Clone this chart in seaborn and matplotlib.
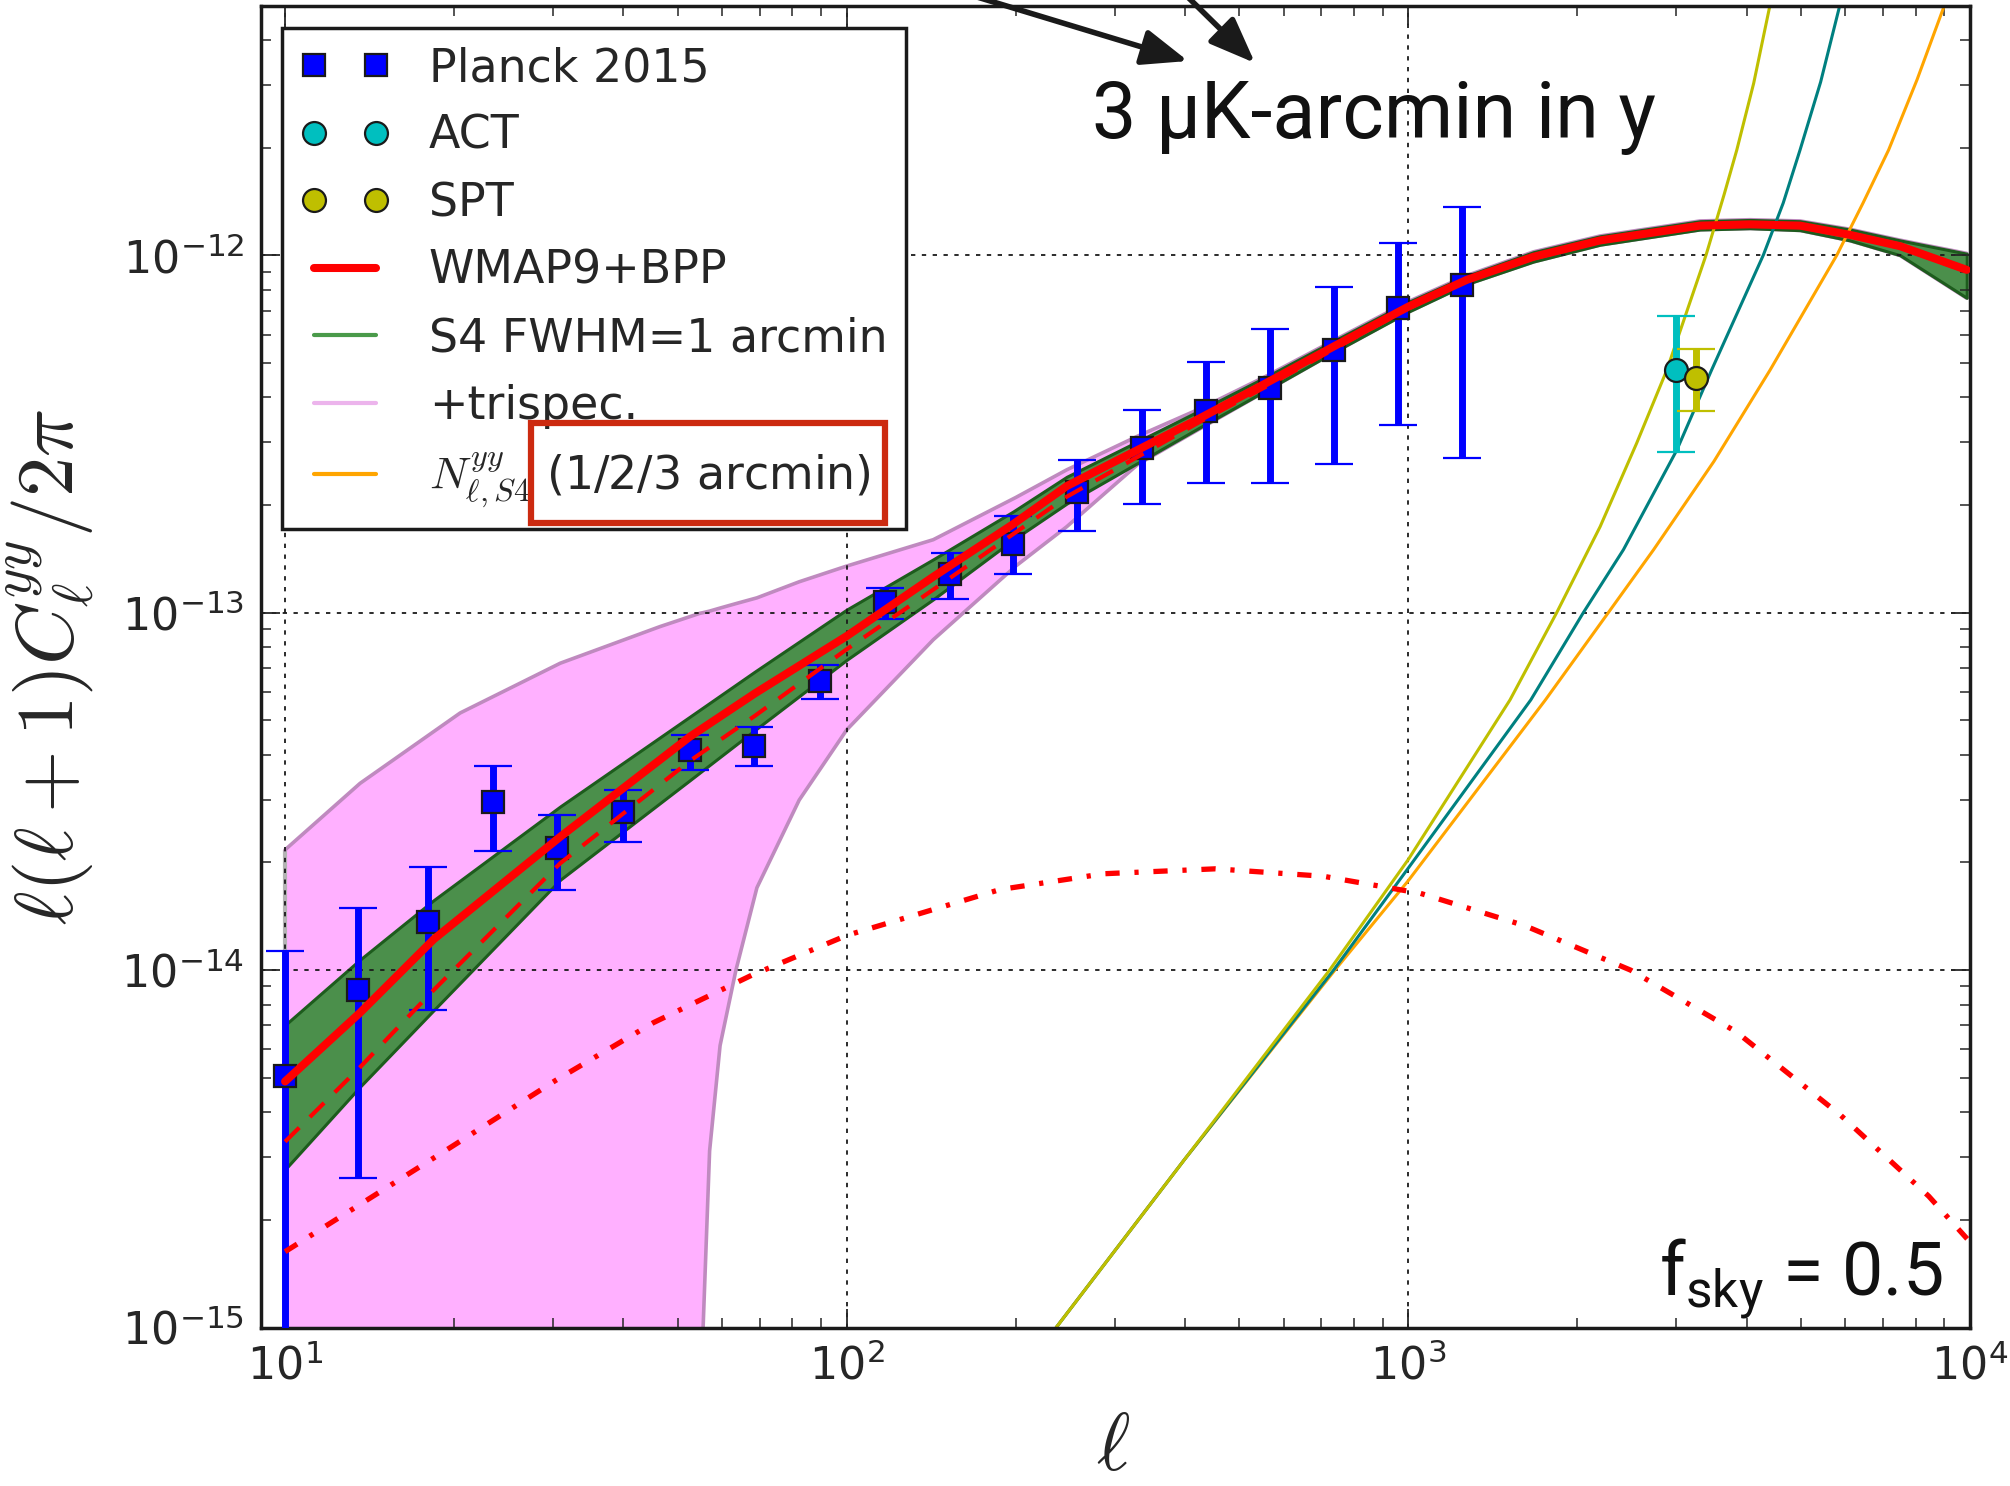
import numpy as np
import matplotlib
matplotlib.use("Agg")
import matplotlib.pyplot as plt
import seaborn as sns
import pandas as pd
from matplotlib.lines import Line2D
from matplotlib.patches import Rectangle, FancyArrowPatch
from matplotlib.font_manager import FontProperties
from matplotlib.ticker import FixedLocator, LogLocator, NullFormatter

# ---------------- data ----------------
planck_ell = [10, 13.5, 18, 23.5, 30.5, 40, 52.5, 68.5, 89.5, 117, 152.5, 198,
              257.5, 335.5, 436.5, 567.5, 738, 959.5, 1247.5]
planck_val = [5.04e-15, 8.77e-15, 1.36e-14, 2.95e-14, 2.19e-14, 2.76e-14, 4.13e-14,
              4.23e-14, 6.45e-14, 1.07e-13, 1.28e-13, 1.56e-13, 2.17e-13, 2.88e-13,
              3.66e-13, 4.24e-13, 5.42e-13, 7.11e-13, 8.24e-13]
planck_hi = [1.13e-14, 1.49e-14, 1.94e-14, 3.72e-14, 2.72e-14, 3.2e-14, 4.56e-14,
             4.8e-14, 7.13e-14, 1.17e-13, 1.47e-13, 1.86e-13, 2.67e-13, 3.7e-13,
             5.04e-13, 6.21e-13, 8.14e-13, 1.08e-12, 1.36e-12]
planck_lo = [1e-16, 2.62e-15, 7.75e-15, 2.15e-14, 1.68e-14, 2.28e-14, 3.62e-14,
             3.72e-14, 5.75e-14, 9.6e-14, 1.09e-13, 1.28e-13, 1.69e-13, 2.02e-13,
             2.31e-13, 2.31e-13, 2.61e-13, 3.36e-13, 2.7e-13]

act_ell, act_val, act_hi, act_lo = [2997], [4.78e-13], [6.76e-13], [2.81e-13]
spt_ell, spt_val, spt_hi, spt_lo = [3250], [4.54e-13], [5.46e-13], [3.67e-13]

ell_model = [10, 13.6, 18.4, 30.9, 52.6, 68.7, 100, 142.6, 198, 246.5, 425.6, 560,
             735.6, 1000, 1270, 1670, 2195, 3306, 4057, 4982, 6115, 7508, 9867]
wmap_total = [4.88e-15, 7.6e-15, 1.22e-14, 2.36e-14, 4.5e-14, 5.95e-14, 8.6e-14,
              1.26e-13, 1.77e-13, 2.26e-13, 3.5e-13, 4.4e-13, 5.55e-13, 7.18e-13,
              8.53e-13, 9.9e-13, 1.10e-12, 1.21e-12, 1.22e-12, 1.21e-12, 1.14e-12,
              1.06e-12, 9.1e-13]
wmap_dashed = [3.31e-15, 5.35e-15, 8.8e-15, 1.99e-14, 3.85e-14, 5.15e-14, 7.9e-14,
               1.16e-13, 1.66e-13, 2.11e-13, 3.42e-13, 4.3e-13, 5.45e-13, 7.1e-13,
               8.45e-13, 9.8e-13, 1.09e-12, 1.2e-12, 1.21e-12, 1.2e-12, 1.13e-12,
               1.05e-12, 9.0e-13]
s4_upper = [7.02e-15, 1.07e-14, 1.57e-14, 2.87e-14, 5.12e-14, 6.85e-14, 1.02e-13,
            1.41e-13, 1.92e-13, 2.40e-13, 3.68e-13, 4.58e-13, 5.75e-13, 7.4e-13,
            8.75e-13, 1.02e-12, 1.13e-12, 1.245e-12, 1.255e-12, 1.245e-12, 1.18e-12,
            1.10e-12, 1.01e-12]
s4_lower = [2.77e-15, 4.72e-15, 7.73e-15, 1.79e-14, 3.40e-14, 4.7e-14, 7.38e-14,
            1.09e-13, 1.60e-13, 2.02e-13, 3.30e-13, 4.2e-13, 5.35e-13, 6.95e-13,
            8.3e-13, 9.6e-13, 1.07e-12, 1.18e-12, 1.19e-12, 1.175e-12, 1.10e-12,
            1.00e-12, 7.6e-13]

ell_tri = [10, 13.6, 20.5, 30.9, 46.5, 54.8, 55.5, 57.0, 59.5, 63.5, 69.2, 82.3, 100,
           142.6, 200, 246.5, 330, 425.6, 560, 735.6, 1000, 1270, 1670, 2195, 3306,
           4057, 4982, 6115, 7508, 9867]
tri_upper = [2.17e-14, 3.33e-14, 5.24e-14, 7.22e-14, 9.14e-14, 9.96e-14, 1.0e-13,
             1.01e-13, 1.03e-13, 1.06e-13, 1.1e-13, 1.22e-13, 1.35e-13, 1.6e-13,
             2.1e-13, 2.51e-13, 3.12e-13, 3.72e-13, 4.6e-13, 5.77e-13, 7.42e-13,
             8.77e-13, 1.022e-12, 1.132e-12, 1.247e-12, 1.257e-12, 1.247e-12,
             1.182e-12, 1.102e-12, 1.012e-12]
tri_lower = [1e-18, 1e-18, 1e-18, 1e-18, 1e-18, 1e-18, 1e-15, 3.12e-15, 6.15e-15,
             1e-14, 1.70e-14, 2.99e-14, 4.7e-14, 8.4e-14, 1.35e-13, 1.74e-13, 2.6e-13,
             3.27e-13, 4.18e-13, 5.33e-13, 6.93e-13, 8.28e-13, 9.58e-13, 1.068e-12,
             1.178e-12, 1.188e-12, 1.173e-12, 1.098e-12, 9.98e-13, 7.58e-13]

ell_1h = [10, 19.7, 30.3, 45.3, 67.7, 100, 187.5, 286.8, 453.6, 706, 1050, 1614,
          2486, 3829, 5890, 8443, 9885]
val_1h = [1.63e-15, 3.19e-15, 4.91e-15, 7.13e-15, 9.67e-15, 1.25e-14, 1.68e-14,
          1.86e-14, 1.92e-14, 1.83e-14, 1.64e-14, 1.33e-14, 1.0e-14, 6.73e-15,
          3.92e-15, 2.33e-15, 1.77e-15]

noise_a_ell = [236, 400, 724, 1000, 1517, 1837, 2195, 2550, 2885, 3388, 3650, 3844,
               4120, 4401]
noise_a_val = [1e-15, 2.96e-15, 1e-14, 2.04e-14, 5.7e-14, 1e-13, 1.74e-13, 2.98e-13,
               4.77e-13, 1e-12, 1.48e-12, 1.97e-12, 3.03e-12, 4.98e-12]
noise_b_ell = [236, 400, 736, 1000, 1652, 2049, 2415, 3006, 3466, 4285, 4650, 4982,
               5420, 5860]
noise_b_val = [1e-15, 2.96e-15, 1e-14, 1.93e-14, 5.7e-14, 1e-13, 1.5e-13, 2.85e-13,
               4.77e-13, 1e-12, 1.4e-12, 1.97e-12, 3.05e-12, 4.98e-12]
noise_c_ell = [236, 400, 740, 1000, 1754, 2270, 2733, 3500, 4405, 5792, 6450, 7163,
               8050, 8995]
noise_c_val = [1e-15, 2.96e-15, 1e-14, 1.78e-14, 5.7e-14, 1e-13, 1.5e-13, 2.65e-13,
               4.77e-13, 1e-12, 1.4e-12, 1.97e-12, 3.1e-12, 4.98e-12]

x_major = [10, 100, 1000, 10000]
y_major = [1e-15, 1e-14, 1e-13, 1e-12]

legend_labels = ["Planck 2015", "ACT", "SPT", "WMAP9+BPP", "S4 FWHM=1 arcmin",
                 "+trispec.", r"$N^{yy}_{\ell,S4}$ (1/2/3 arcmin)"]

# ---------------- style ----------------
sns.set_theme(style="ticks")
plt.rcParams["font.family"] = ["DejaVu Sans"]
plt.rcParams["axes.unicode_minus"] = False
plt.rcParams["mathtext.fontset"] = "dejavusans"
plt.rcParams["mathtext.rm"] = "Roboto"

fig = plt.figure(figsize=(20.1, 14.86), dpi=100)
ax = fig.add_axes([0.12985, 0.10666, 0.85025, 0.8893])
ax.set_xscale("log")
ax.set_yscale("log")

# pink trispectrum band
ax.fill_between(ell_tri, tri_lower, tri_upper, facecolor="#ffb0ff", edgecolor="none",
                linewidth=0, zorder=0.6)
ax.vlines(ell_tri[0], tri_lower[0], tri_upper[0], color="#b4b4b4", lw=3, zorder=0.65)
df_tri = pd.DataFrame({"ell": ell_tri, "hi": tri_upper, "lo": tri_lower})
sns.lineplot(data=df_tri, x="ell", y="hi", ax=ax, color="#bf8abf", lw=2.6,
             sort=False, estimator=None, zorder=0.7)
sns.lineplot(data=df_tri, x="ell", y="lo", ax=ax, color="#bf8abf", lw=2.6,
             sort=False, estimator=None, zorder=0.7)

# green S4 band
ax.fill_between(ell_model, s4_lower, s4_upper, facecolor="#4b8f4b", edgecolor="#1d5c1d",
                linewidth=2.2, zorder=0.8)

# noise curves
for ells, vals, col in [(noise_c_ell, noise_c_val, "#ffa500"),
                        (noise_b_ell, noise_b_val, "#008080"),
                        (noise_a_ell, noise_a_val, "#bfbf00")]:
    sns.lineplot(x=ells, y=vals, ax=ax, color=col, lw=2.2, sort=False,
                 estimator=None, zorder=2)

# Planck / ACT / SPT points
ekw = dict(mec="k", mew=1.6, ms=16.5, elinewidth=5, capsize=14, capthick=5, zorder=3)
p_val = np.array(planck_val)
ax.errorbar(planck_ell, p_val, yerr=[p_val - np.array(planck_lo), np.array(planck_hi) - p_val],
            fmt="s", color="#0000ff", mfc="#0000ff", **ekw)
a_val = np.array(act_val)
ax.errorbar(act_ell, a_val, yerr=[a_val - np.array(act_lo), np.array(act_hi) - a_val],
            fmt="o", color="#00bfbf", mfc="#00bfbf", **ekw)
s_val = np.array(spt_val)
ax.errorbar(spt_ell, s_val, yerr=[s_val - np.array(spt_lo), np.array(spt_hi) - s_val],
            fmt="o", color="#bfbf00", mfc="#bfbf00", **ekw)

# red model lines
df_m = pd.DataFrame({"ell": ell_model, "tot": wmap_total, "dsh": wmap_dashed})
sns.lineplot(data=df_m, x="ell", y="dsh", ax=ax, color="#ff0000", lw=3.0,
             sort=False, estimator=None, zorder=4)
ax.lines[-1].set_dashes((4.8, 3.6))
sns.lineplot(x=ell_1h, y=val_1h, ax=ax, color="#ff0000", lw=3.8, sort=False,
             estimator=None, zorder=4)
ax.lines[-1].set_dashes((2.7, 2.8, 0.8, 2.8))
sns.lineplot(data=df_m, x="ell", y="tot", ax=ax, color="#ff0000", lw=5.8,
             sort=False, estimator=None, zorder=4.5)

# axes
ax.set_xlim(9.06, 1e4)
ax.set_ylim(1e-15, 4.98e-12)
ax.xaxis.set_major_locator(FixedLocator(x_major))
ax.yaxis.set_major_locator(FixedLocator(y_major))
ax.xaxis.set_minor_locator(LogLocator(base=10, subs=np.arange(2, 10), numticks=20))
ax.yaxis.set_minor_locator(LogLocator(base=10, subs=np.arange(2, 10), numticks=20))
ax.xaxis.set_minor_formatter(NullFormatter())
ax.yaxis.set_minor_formatter(NullFormatter())
ax.set_axisbelow("line")
ax.grid(True, which="major", color="k", lw=1.3, linestyle=(0, (2.4, 3.6)))
ax.grid(False, which="minor")
ax.tick_params(which="both", direction="in", top=True, right=True, labelsize=32)
ax.tick_params(which="major", length=14, width=1.3, pad=12)
ax.tick_params(which="minor", length=7, width=1.1)
for sp in ax.spines.values():
    sp.set_linewidth(2.5)
    sp.set_color("k")

ax.set_xlabel(r"$\ell$", fontsize=58, math_fontfamily="cm")
ax.xaxis.set_label_coords(0.4985, -0.062)
ax.set_ylabel(r"$\ell(\ell+1)C_\ell^{yy}/2\pi$", fontsize=58, math_fontfamily="cm")
ax.yaxis.set_label_coords(-0.0965, 0.5)

# legend
handles = [
    Line2D([], [], marker="s", ls="none", color="#0000ff", mec="k", mew=1.6, ms=16.5),
    Line2D([], [], marker="o", ls="none", color="#00bfbf", mec="k", mew=1.6, ms=16.5),
    Line2D([], [], marker="o", ls="none", color="#bfbf00", mec="k", mew=1.6, ms=16.5),
    Line2D([], [], color="#ff0000", lw=5.8),
    Line2D([], [], color="#4a9a4a", lw=3),
    Line2D([], [], color="#ecb4ec", lw=3),
    Line2D([], [], color="#ffa500", lw=3),
]
leg = ax.legend(handles, legend_labels, loc="upper left", bbox_to_anchor=(0.0123, 0.9834),
                borderaxespad=0, numpoints=2,
                prop=FontProperties(family="DejaVu Sans", size=33, math_fontfamily="cm"),
                frameon=True, fancybox=False, framealpha=1, edgecolor="k",
                handlelength=1.95, handletextpad=0.85, labelspacing=0.49, borderpad=0.4)
leg.get_frame().set_linewidth(2.5)
leg.set_zorder(6)

# red highlight box in the legend
fig.patches.append(Rectangle((531 / 2010, 1 - 523 / 1486), (885 - 531) / 2010,
                             (523 - 423) / 1486, transform=fig.transFigure, fill=False,
                             ec="#cc2a10", lw=4.5, zorder=10))

# annotation text + arrows (arrows start above the figure edge)
fig.text(1091.5 / 2010, 1 - 138 / 1486, "3 μK-arcmin in y", fontsize=57,
         family="Roboto", weight="normal", color="#111111", ha="left", va="baseline")
for tail, tip in [((855, 1526), (1188, 1425)), ((1150, 1526), (1255, 1423))]:
    arr = FancyArrowPatch((tail[0] / 2010, tail[1] / 1486), (tip[0] / 2010, tip[1] / 1486),
                          transform=fig.transFigure,
                          arrowstyle="-|>,head_length=1.4,head_width=0.55",
                          color="k", lw=4, mutation_scale=20, shrinkA=0, shrinkB=0,
                          zorder=10)
    fig.patches.append(arr)

fig.text(1942.6 / 2010, 1 - 1296.3 / 1486, r"f$_{\rm sky}$ = 0.5", fontsize=53,
         family="Roboto", weight="normal", color="#111111", math_fontfamily="custom",
         ha="right", va="baseline")

fig.savefig("out.png", dpi=100)
